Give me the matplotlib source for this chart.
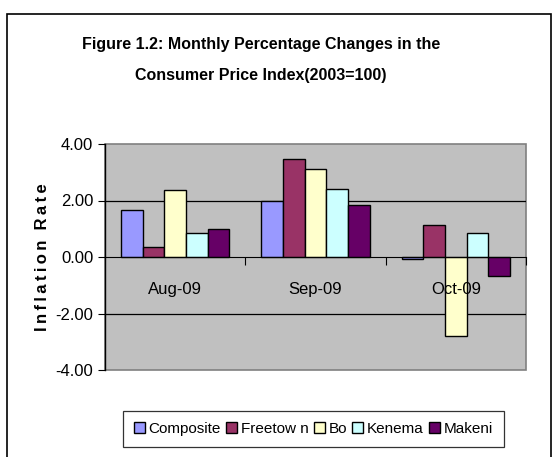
import numpy as np
import matplotlib.pyplot as plt
from matplotlib.patches import Rectangle

plt.rcParams["font.family"] = ["Liberation Sans", "DejaVu Sans"]

# Data
months = ["Aug-09", "Sep-09", "Oct-09"]
series_names = ["Composite", "Freetow n", "Bo", "Kenema", "Makeni"]
composite = [1.68, 1.97, -0.07]
freetown = [0.35, 3.46, 1.13]
bo = [2.38, 3.10, -2.78]
kenema = [0.84, 2.40, 0.84]
makeni = [0.99, 1.83, -0.66]
colors = ["#9999FF", "#993366", "#FFFFCC", "#CCFFFF", "#660066"]

fig = plt.figure(figsize=(5.54, 4.57), dpi=100)
ax = fig.add_axes([105 / 554, 1 - 370 / 457, (526 - 105) / 554, (370 - 144) / 457])
ax.set_facecolor("#C0C0C0")

x = np.arange(len(months))
w = 0.154
for i, (vals, name) in enumerate(zip([composite, freetown, bo, kenema, makeni], series_names)):
    ax.bar(x + (i - 2) * w, vals, w, color=colors[i], edgecolor="black", linewidth=1.0,
           label=name, zorder=3)

ax.set_xlim(-0.5, 2.5)
ax.set_ylim(-4, 4)
ax.set_yticks([-4, -2, 0, 2, 4])
ax.set_yticklabels(["%.2f" % v for v in [-4, -2, 0, 2, 4]], fontsize=12)
for yv in [-2, 2]:
    ax.axhline(yv, color="black", linewidth=0.9, zorder=1)

# category axis sits at zero, labels drawn over the bars
for s in ["top", "right"]:
    ax.spines[s].set_visible(False)
ax.spines["bottom"].set_position(("data", 0))
ax.spines["bottom"].set_zorder(4)
ax.spines["left"].set_linewidth(1.0)
ax.xaxis.set_zorder(5)
ax.add_patch(Rectangle((0, 0), 1, 1, transform=ax.transAxes, fill=False,
                       edgecolor="#808080", linewidth=1.2, zorder=0.5, clip_on=False))
ax.set_xticks([0.5, 1.5, 2.5])
ax.set_xticklabels([])
ax.set_xticks(x, minor=True)
ax.set_xticklabels(months, minor=True, fontsize=12)
ax.tick_params(axis="x", which="major", direction="out", length=6, width=0.8)
ax.tick_params(axis="x", which="minor", length=0, pad=18)
ax.tick_params(axis="y", direction="out", length=5, width=0.8)

ylab = "\u2009".join("Inflation") + "\u2009\u2009\u2009" + "\u2009".join("Rate")
ax.set_ylabel(ylab, fontsize=12, fontweight="bold")
ax.yaxis.set_label_coords(-0.131, 0.5)

fig.text(0.471, 1 - 45 / 457, "Figure 1.2: Monthly Percentage Changes in the",
         ha="center", va="center", fontsize=11.5, fontweight="bold")
fig.text(0.471, 1 - 76 / 457, "Consumer Price Index(2003=100)",
         ha="center", va="center", fontsize=11.5, fontweight="bold")

fig.patches.append(Rectangle((7 / 554, -0.02), 544 / 554, 1.02 - 14 / 457,
                             transform=fig.transFigure, fill=False,
                             edgecolor="black", linewidth=1.2))

leg = fig.legend(loc="center", bbox_to_anchor=(313.5 / 554, 1 - 429 / 457), ncol=5,
                 fancybox=False, edgecolor="black", fontsize=11,
                 handlelength=0.7, handleheight=0.7, handletextpad=0.25,
                 columnspacing=0.35, borderpad=0.75)
leg.get_frame().set_linewidth(0.9)

fig.savefig("out.png", dpi=100)
